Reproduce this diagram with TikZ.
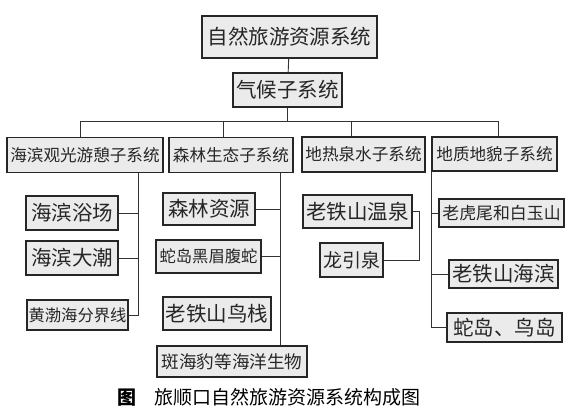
\documentclass[tikz,border=0pt]{standalone}
\usepackage{fontspec}
\setmainfont{Noto Sans CJK SC}
\usepackage{tikz}
\usetikzlibrary{positioning, calc}

\begin{document}
\begin{tikzpicture}[
  x=1pt, y=-1pt,
  box/.style={rectangle, draw=black!85, line width=1.1pt, fill=gray!16, inner sep=0pt, text centered, text=black!85, font=\fontsize{20.5pt}{23pt}\selectfont},
  subbox/.style={box, font=\fontsize{16.6pt}{19pt}\selectfont},
  smallbox/.style={box, font=\fontsize{16.3pt}{18pt}\selectfont},
  line/.style={draw=black!80, line width=0.9pt}
]
\useasboundingbox (0,0) rectangle (574,412);

% Root
\node[box, minimum width=175pt, minimum height=42pt] (root) at (289.5,37) {自然旅游资源系统};
\node[box, minimum width=109pt, minimum height=34pt] (climate) at (287.5,90) {气候子系统};

% Subsystems
\node[subbox, minimum width=156pt, minimum height=35pt] (hb) at (85,155) {海滨观光游憩子系统};
\node[subbox, minimum width=124pt, minimum height=35pt] (sl) at (231,155) {森林生态子系统};
\node[subbox, minimum width=123pt, minimum height=35pt] (dr) at (363.5,154.5) {地热泉水子系统};
\node[subbox, minimum width=125pt, minimum height=34pt] (dz) at (494.5,154) {地质地貌子系统};

% Seaside
\node[box, minimum width=92pt, minimum height=34pt] (hb1) at (72,213) {海滨浴场};
\node[box, minimum width=92pt, minimum height=34pt] (hb2) at (72,258) {海滨大潮};
\node[smallbox, minimum width=101pt, minimum height=30pt] (hb3) at (77.5,315) {黄渤海分界线};

% Forest
\node[box, minimum width=92pt, minimum height=32pt] (sl1) at (209,209) {森林资源};
\node[smallbox, minimum width=105pt, minimum height=33pt] (sl2) at (208.5,256.5) {蛇岛黑眉腹蛇};
\node[box, minimum width=108pt, minimum height=33pt] (sl3) at (217,313.5) {老铁山鸟栈};
\node[box, minimum width=150pt, minimum height=31pt, font=\fontsize{17.6pt}{20pt}\selectfont] (sl4) at (232,361.5) {斑海豹等海洋生物};

% Hot springs
\node[box, minimum width=109pt, minimum height=33pt] (dr1) at (357.5,211.5) {老铁山温泉};
\node[box, minimum width=63pt, minimum height=34pt, font=\fontsize{19pt}{22pt}\selectfont] (dr2) at (351.5,260) {龙引泉};

% Landforms
\node[subbox, minimum width=125pt, minimum height=28pt, font=\fontsize{16.9pt}{19pt}\selectfont] (dz1) at (501.5,213) {老虎尾和白玉山};
\node[box, minimum width=109pt, minimum height=28pt] (dz2) at (503.5,274) {老铁山海滨};
\node[box, minimum width=115pt, minimum height=29pt] (dz3) at (504.5,327.5) {蛇岛、鸟岛};

% Caption
\node[font=\fontsize{19pt}{22pt}\selectfont] (cap) at (269,397) {\textbf{图}\hspace{1em}旅顺口自然旅游资源系统构成图};

% Bus and trunks
\coordinate (b1) at (80,121);
\coordinate (b2) at (223,121);
\coordinate (b3) at (351,121);
\coordinate (b4) at (498,121);
\coordinate (t1) at (138,0);
\coordinate (t2) at (280,0);
\coordinate (t3) at (419,0);
\coordinate (t4) at (431,0);

\draw[line] (root) -- (climate);
\draw[line] (climate) -- (climate.south |- b1);
\draw[line] (b1) -- (b4);
\draw[line] (b1) -- (b1 |- hb.north);
\draw[line] (b2) -- (b2 |- sl.north);
\draw[line] (b3) -- (b3 |- dr.north);
\draw[line] (b4) -- (b4 |- dz.north);

\draw[line] (hb.south -| t1) |- (hb3.east);
\draw[line] (hb1) -- (hb1 -| t1);
\draw[line] (hb2) -- (hb2 -| t1);

\draw[line] (sl.south -| t2) -- (sl4.north -| t2);
\draw[line] (sl1) -- (sl1 -| t2);
\draw[line] (sl2) -- (sl2 -| t2);

\draw[line] (dr1.east) -| (dr1 -| t3) |- (dr2.east);

\draw[line] (dz.south -| t4) |- (dz3.west);
\draw[line] (dz1) -- (dz1 -| t4);
\draw[line] (dz2) -- (dz2 -| t4);

\end{tikzpicture}
\end{document}
